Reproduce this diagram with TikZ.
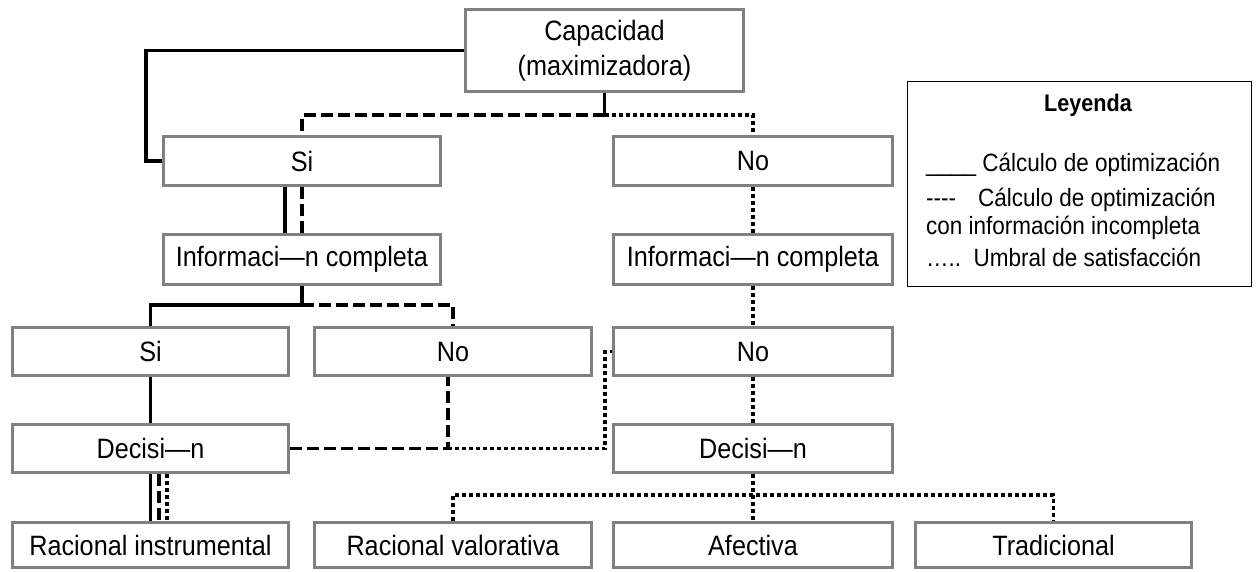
\documentclass[tikz,border=0pt]{standalone}
\usepackage{fontspec}
\setmainfont[FakeStretch=0.9]{Liberation Sans}
\usetikzlibrary{calc,backgrounds}
\definecolor{boxgray}{RGB}{128,128,128}
\begin{document}
\begin{tikzpicture}[x=1pt,y=-1pt,
  box/.style={draw=boxgray, line width=3pt, fill=white, inner sep=0pt,
    font=\fontsize{28}{35}\selectfont, align=center},
  lc/.style={line width=3.5pt, line cap=butt, black},
  dsh/.style={lc, dash pattern=on 12pt off 5pt},
  dtt/.style={lc, dash pattern=on 4pt off 3pt},
  lt/.style={font=\fontsize{25}{28}\selectfont, inner sep=0pt, anchor=west}
]
\useasboundingbox (0,0) rectangle (1258,571);

% boxes
\node[box, minimum width=278pt, minimum height=82pt] (cap) at (604.5,50.5) {Capacidad\\(maximizadora)};
\node[box, minimum width=277pt, minimum height=49pt] (siT) at (302,161) {Si};
\node[box, minimum width=279pt, minimum height=49pt] (noT) at (753,161) {No};
\node[box, minimum width=277pt, minimum height=50pt] (infoL) at (302,259.5) {Informaci—n completa};
\node[box, minimum width=279pt, minimum height=50pt] (infoR) at (753,259.5) {Informaci—n completa};
\node[box, minimum width=276pt, minimum height=48pt] (siM) at (150.5,351.5) {Si};
\node[box, minimum width=277pt, minimum height=48pt] (noM) at (453,351.5) {No};
\node[box, minimum width=279pt, minimum height=48pt] (noR) at (753,351.5) {No};
\node[box, minimum width=276pt, minimum height=48pt] (decL) at (150.5,448.5) {Decisi—n};
\node[box, minimum width=279pt, minimum height=48pt] (decR) at (753,448.5) {Decisi—n};
\node[box, minimum width=276pt, minimum height=45pt] (riL) at (150.5,545) {Racional instrumental};
\node[box, minimum width=277pt, minimum height=45pt] (rv) at (453,545) {Racional valorativa};
\node[box, minimum width=279pt, minimum height=45pt] (af) at (753,545) {Afectiva};
\node[box, minimum width=276pt, minimum height=45pt] (tr) at (1053.5,545) {Tradicional};

% connectors
\begin{scope}[on background layer]
\fill[white] (0,0) rectangle (1258,571);
\draw[lc] (cap.west) -- ++(-318,0) |- (siT.west);
\coordinate (j1) at (604.5,115);
\draw[lc] (cap.south) -- (j1);
\draw[dsh] (j1) -- (siT.north |- j1) -- (siT.north);
\draw[dtt] (j1) -- (noT.north |- j1) -- (noT.north);
\draw[lc] ($(siT.south)+(-17,0)$) -- ($(infoL.north)+(-17,0)$);
\draw[dsh] (siT.south) -- (infoL.north);
\coordinate (j2) at (302,305);
\draw[lc] (infoL.south) -- (j2) -- (siM.north |- j2) -- (siM.north);
\draw[dsh] (j2) -- (noM.north |- j2) -- (noM.north);
\draw[lc] (siM.south) -- (decL.north);
\coordinate (j3) at (448,448.5);
\draw[dsh] (decL.east) -- (j3) -- (j3 |- noM.south);
\coordinate (j4) at (605,448.5);
\draw[dtt] (j3) -- (j4) -- (j4 |- noR.west) -- (noR.west);
\draw[dtt] (noT.south) -- (infoR.north);
\draw[dtt] (infoR.south) -- (noR.north);
\draw[dtt] (noR.south) -- (decR.north);
\coordinate (j5) at (753,495);
\draw[dtt] (decR.south) -- (j5);
\draw[dtt] (rv.north) -- (rv.north |- j5) -- (tr.north |- j5) -- (tr.north);
\draw[dtt] (j5) -- (af.north);
\draw[lc] (decL.south) -- (riL.north);
\draw[dsh] ($(decL.south)+(8.5,0)$) -- ($(riL.north)+(8.5,0)$);
\draw[dtt] ($(decL.south)+(16.5,0)$) -- ($(riL.north)+(16.5,0)$);
\end{scope}

% legend
\node[draw=black, line width=1.5pt, minimum width=344pt, minimum height=205pt, inner sep=0pt] (leg) at (1079.5,184) {};
\node[font=\fontsize{24}{28}\selectfont\bfseries, inner sep=0pt] (legT) at (1088,105) {Leyenda};
\node[lt] (l1) at (926,165) {\_\_\_\_ Cálculo de optimización};
\node[lt] (l2) at (926,200) {-{}-{}-{}-\hspace{22pt}Cálculo de optimización};
\node[lt] (l3) at (926,228) {con información incompleta};
\node[lt] (l4) at (926,257) {…..\hspace{4pt} Umbral de satisfacción};
\end{tikzpicture}
\end{document}
